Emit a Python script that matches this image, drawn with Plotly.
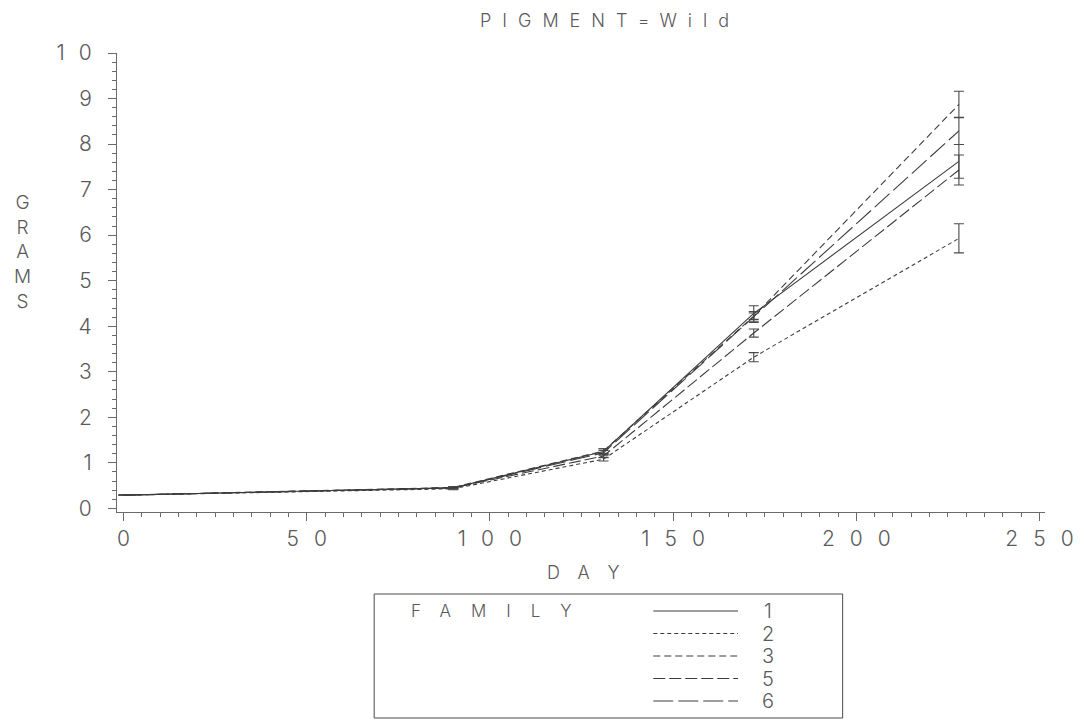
import plotly.graph_objects as go

# Sampling days and mean weights (grams) with standard errors, by family
days = [0, 90, 131, 172, 228]

fam1_mean = [0.29, 0.45, 1.25, 4.28, 7.62]
fam1_err = [None, 0.02, 0.06, 0.17, 0.37]

fam2_mean = [0.29, 0.43, 1.08, 3.32, 5.93]
fam2_err = [None, 0.02, 0.04, 0.10, 0.32]

fam3_mean = [0.29, 0.46, 1.26, 4.22, 8.87]
fam3_err = [None, 0.02, 0.05, 0.07, 0.29]

fam5_mean = [0.29, 0.45, 1.15, 3.85, 7.43]
fam5_err = [None, 0.02, 0.04, 0.09, 0.33]

fam6_mean = [0.29, 0.45, 1.22, 4.20, 8.29]
fam6_err = [None, 0.02, 0.05, 0.12, 0.30]

family_labels = ["1", "2", "3", "5", "6"]
family_dash = ["solid", "4px,3px", "7px,4px", "12px,4px", "20px,5px"]

x_ticks = [0, 50, 100, 150, 200, 250]
y_ticks = list(range(0, 11))

FONT = "Inter"
INK = "#3c3c3c"
AXIS = "#6a6a6a"
TEXT = "#5a5a5a"

W, H = 1086, 728
L, R, T, B = 117, 38, 53, 216
PW, PH = W - L - R, H - T - B


def spaced(s, gap):
    """Letter-spaced label: gap applied between characters only."""
    if len(s) < 2:
        return s
    return f'<span style="letter-spacing:{gap}px">{s[:-1]}</span>{s[-1]}'


def px_x(px):
    return (px - L) / PW


def px_y(py):
    return (H - B - py) / PH


def label(text, x, y, size, xanchor="center"):
    fig.add_annotation(
        text=text, xref="paper", yref="paper",
        x=px_x(x), y=px_y(y), xanchor=xanchor, yanchor="middle",
        showarrow=False, align="center",
        font=dict(size=size, color=TEXT, family=FONT, weight=300),
    )


fig = go.Figure()

series = [
    (fam1_mean, fam1_err),
    (fam2_mean, fam2_err),
    (fam3_mean, fam3_err),
    (fam5_mean, fam5_err),
    (fam6_mean, fam6_err),
]
for (mean, err), lab, dash in zip(series, family_labels, family_dash):
    fig.add_trace(go.Scatter(
        x=days, y=mean, mode="lines", name=lab,
        line=dict(color=INK, width=1.1, dash=dash),
        error_y=dict(type="data", array=err, symmetric=True,
                     color="#4a4a4a", thickness=1.1, width=5),
        showlegend=False,
    ))

fig.update_layout(
    width=W, height=H,
    margin=dict(l=L, r=R, t=T, b=B),
    paper_bgcolor="white", plot_bgcolor="white",
    font=dict(family=FONT, color=TEXT, weight=300),
)

fig.update_xaxes(
    range=[-1.8, 251.5], showgrid=False, zeroline=False,
    showline=True, linecolor=AXIS, linewidth=1,
    tickmode="array", tickvals=x_ticks,
    ticktext=[spaced(str(v), 15) for v in x_ticks],
    ticks="outside", ticklen=8, tickcolor=AXIS, tickwidth=1,
    tickfont=dict(size=21, color=TEXT, family=FONT, weight=300),
    ticklabelstandoff=0,
    minor=dict(dtick=5, ticks="outside", ticklen=4, tickcolor=AXIS, tickwidth=1),
)
fig.update_yaxes(
    range=[-0.08, 10.0], showgrid=False, zeroline=False,
    showline=True, linecolor=AXIS, linewidth=1,
    tickmode="array", tickvals=y_ticks,
    ticktext=[spaced(str(v), 14) for v in y_ticks],
    ticks="outside", ticklen=8, tickcolor=AXIS, tickwidth=1,
    tickfont=dict(size=21, color=TEXT, family=FONT, weight=300),
    ticklabelstandoff=12,
    minor=dict(dtick=0.2, ticks="outside", ticklen=4, tickcolor=AXIS, tickwidth=1),
)

# Title and axis titles
label(spaced("PIGMENT=Wild", 11), 606, 20, 18)
label(spaced("DAY", 18), 585, 572, 18)
label("<br>".join("GRAMS"), 22, 252, 19)

# Legend box with line samples
fig.add_shape(
    type="rect", xref="paper", yref="paper",
    x0=px_x(375), x1=px_x(845), y0=px_y(594), y1=px_y(718),
    line=dict(color="#4a4a4a", width=1), fillcolor="rgba(0,0,0,0)",
)
label(spaced("FAMILY", 20), 410, 611, 17, xanchor="left")
row_y = [611, 633.5, 656, 678.5, 701]
for lab, dash, ry in zip(family_labels, family_dash, row_y):
    fig.add_shape(
        type="line", xref="paper", yref="paper",
        x0=px_x(655), x1=px_x(740), y0=px_y(ry), y1=px_y(ry),
        line=dict(color=INK, width=1.1, dash=dash),
    )
    label(lab, 770, ry, 20)

fig.write_html("out.html")
